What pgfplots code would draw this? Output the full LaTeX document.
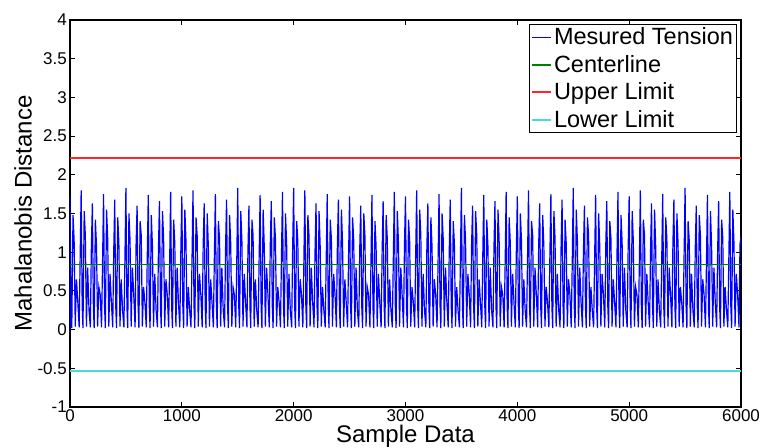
\documentclass[border=0pt]{standalone}
\usepackage{pgfplots}
\pgfplotsset{compat=1.18}
\usepackage{fontspec}
\setmainfont{Liberation Sans}
\definecolor{mgreen}{rgb}{0,0.5,0}
\definecolor{mred}{rgb}{1,0.15,0.15}
\definecolor{mcyan}{rgb}{0.3,0.85,0.85}
\begin{document}
\begin{tikzpicture}
\begin{axis}[
  scale only axis,
  width=671pt,height=387pt,
  xmin=0,xmax=6000,ymin=-1,ymax=4,
  xtick={0,1000,...,6000},
  ytick={-1,-0.5,0,0.5,1,1.5,2,2.5,3,3.5,4},
  tick align=inside,
  major tick length=5pt,
  tick style={black,line width=1pt},
  axis line style={black,line width=1.2pt},
  /pgf/number format/assume math mode=true,
  /pgf/number format/1000 sep={},
  scaled x ticks=false,
  tick label style={font=\fontsize{17}{19}\selectfont},
  xticklabel style={inner sep=1pt,yshift=-1pt},
  yticklabel style={inner sep=1pt,xshift=-2pt},
  xlabel={Sample Data},ylabel={Mahalanobis Distance},
  label style={font=\fontsize{24}{26}\selectfont},
  xlabel style={at={(rel axis cs:0.5,-0.093)},anchor=base},
  ylabel style={at={(rel axis cs:-0.07,0.5)},anchor=center,rotate=0},
  legend cell align=left,
  legend style={at={(rel axis cs:0.994,0.99)},anchor=north east,
    draw=black,line width=1pt,font=\fontsize{23.5}{26}\selectfont,
    inner sep=1.5pt,row sep=5pt},
  legend image code/.code={\draw[#1] (0pt,0pt) -- (19pt,0pt);},
]
\addplot[blue,line width=1.2pt] coordinates {
(0,0)(0,1.72)(9,0.3)(16,0.02)(27,1.48)(37,1.15)(47,0.04)(58,0.65)(70,0.35)(82,0.03)(91,0.95)
(100,1.80)(109,0.3)(116,0.02)(127,1.53)(137,1.22)(147,0.04)(158,0.80)(170,0.25)(182,0.03)(191,1.05)
(200,1.63)(209,0.3)(216,0.02)(227,1.42)(237,1.08)(247,0.04)(258,0.55)(270,0.45)(282,0.03)(291,0.85)
(300,1.75)(309,0.3)(316,0.02)(327,1.55)(337,1.18)(347,0.04)(358,0.72)(370,0.35)(382,0.03)(391,1.00)
(400,1.68)(409,0.3)(416,0.02)(427,1.45)(437,1.12)(447,0.04)(458,0.65)(470,0.25)(482,0.03)(491,0.90)
(500,1.83)(509,0.3)(516,0.02)(527,1.50)(537,1.15)(547,0.04)(558,0.80)(570,0.45)(582,0.03)(591,1.10)
(600,1.60)(609,0.3)(616,0.02)(627,1.40)(637,1.22)(647,0.04)(658,0.55)(670,0.35)(682,0.03)(691,0.95)
(700,1.74)(709,0.3)(716,0.02)(727,1.48)(737,1.08)(747,0.04)(758,0.72)(770,0.25)(782,0.03)(791,1.05)
(800,1.66)(809,0.3)(816,0.02)(827,1.53)(837,1.18)(847,0.04)(858,0.65)(870,0.45)(882,0.03)(891,0.85)
(900,1.78)(909,0.3)(916,0.02)(927,1.42)(937,1.12)(947,0.04)(958,0.80)(970,0.35)(982,0.03)(991,1.00)
(1000,1.72)(1009,0.3)(1016,0.02)(1027,1.55)(1037,1.15)(1047,0.04)(1058,0.55)(1070,0.25)(1082,0.03)(1091,0.90)
(1100,1.80)(1109,0.3)(1116,0.02)(1127,1.45)(1137,1.22)(1147,0.04)(1158,0.72)(1170,0.45)(1182,0.03)(1191,1.10)
(1200,1.63)(1209,0.3)(1216,0.02)(1227,1.50)(1237,1.08)(1247,0.04)(1258,0.65)(1270,0.35)(1282,0.03)(1291,0.95)
(1300,1.75)(1309,0.3)(1316,0.02)(1327,1.40)(1337,1.18)(1347,0.04)(1358,0.80)(1370,0.25)(1382,0.03)(1391,1.05)
(1400,1.68)(1409,0.3)(1416,0.02)(1427,1.48)(1437,1.12)(1447,0.04)(1458,0.55)(1470,0.45)(1482,0.03)(1491,0.85)
(1500,1.83)(1509,0.3)(1516,0.02)(1527,1.53)(1537,1.15)(1547,0.04)(1558,0.72)(1570,0.35)(1582,0.03)(1591,1.00)
(1600,1.60)(1609,0.3)(1616,0.02)(1627,1.42)(1637,1.22)(1647,0.04)(1658,0.65)(1670,0.25)(1682,0.03)(1691,0.90)
(1700,1.74)(1709,0.3)(1716,0.02)(1727,1.55)(1737,1.08)(1747,0.04)(1758,0.80)(1770,0.45)(1782,0.03)(1791,1.10)
(1800,1.66)(1809,0.3)(1816,0.02)(1827,1.45)(1837,1.18)(1847,0.04)(1858,0.55)(1870,0.35)(1882,0.03)(1891,0.95)
(1900,1.78)(1909,0.3)(1916,0.02)(1927,1.50)(1937,1.12)(1947,0.04)(1958,0.72)(1970,0.25)(1982,0.03)(1991,1.05)
(2000,1.83)(2009,0.3)(2016,0.02)(2027,1.40)(2037,1.15)(2047,0.04)(2058,0.65)(2070,0.45)(2082,0.03)(2091,0.85)
(2100,1.80)(2109,0.3)(2116,0.02)(2127,1.48)(2137,1.22)(2147,0.04)(2158,0.80)(2170,0.35)(2182,0.03)(2191,1.00)
(2200,1.63)(2209,0.3)(2216,0.02)(2227,1.53)(2237,1.08)(2247,0.04)(2258,0.55)(2270,0.25)(2282,0.03)(2291,0.90)
(2300,1.75)(2309,0.3)(2316,0.02)(2327,1.42)(2337,1.18)(2347,0.04)(2358,0.72)(2370,0.45)(2382,0.03)(2391,1.10)
(2400,1.68)(2409,0.3)(2416,0.02)(2427,1.55)(2437,1.12)(2447,0.04)(2458,0.65)(2470,0.35)(2482,0.03)(2491,0.95)
(2500,1.72)(2509,0.3)(2516,0.02)(2527,1.45)(2537,1.15)(2547,0.04)(2558,0.80)(2570,0.25)(2582,0.03)(2591,1.05)
(2600,1.60)(2609,0.3)(2616,0.02)(2627,1.50)(2637,1.22)(2647,0.04)(2658,0.55)(2670,0.45)(2682,0.03)(2691,0.85)
(2700,1.74)(2709,0.3)(2716,0.02)(2727,1.40)(2737,1.08)(2747,0.04)(2758,0.72)(2770,0.35)(2782,0.03)(2791,1.00)
(2800,1.66)(2809,0.3)(2816,0.02)(2827,1.48)(2837,1.18)(2847,0.04)(2858,0.65)(2870,0.25)(2882,0.03)(2891,0.90)
(2900,1.78)(2909,0.3)(2916,0.02)(2927,1.53)(2937,1.12)(2947,0.04)(2958,0.80)(2970,0.45)(2982,0.03)(2991,1.10)
(3000,1.72)(3009,0.3)(3016,0.02)(3027,1.42)(3037,1.15)(3047,0.04)(3058,0.55)(3070,0.35)(3082,0.03)(3091,0.95)
(3100,1.80)(3109,0.3)(3116,0.02)(3127,1.55)(3137,1.22)(3147,0.04)(3158,0.72)(3170,0.25)(3182,0.03)(3191,1.05)
(3200,1.63)(3209,0.3)(3216,0.02)(3227,1.45)(3237,1.08)(3247,0.04)(3258,0.65)(3270,0.45)(3282,0.03)(3291,0.85)
(3300,1.75)(3309,0.3)(3316,0.02)(3327,1.50)(3337,1.18)(3347,0.04)(3358,0.80)(3370,0.35)(3382,0.03)(3391,1.00)
(3400,1.68)(3409,0.3)(3416,0.02)(3427,1.40)(3437,1.12)(3447,0.04)(3458,0.55)(3470,0.25)(3482,0.03)(3491,0.90)
(3500,1.83)(3509,0.3)(3516,0.02)(3527,1.48)(3537,1.15)(3547,0.04)(3558,0.72)(3570,0.45)(3582,0.03)(3591,1.10)
(3600,1.60)(3609,0.3)(3616,0.02)(3627,1.53)(3637,1.22)(3647,0.04)(3658,0.65)(3670,0.35)(3682,0.03)(3691,0.95)
(3700,1.74)(3709,0.3)(3716,0.02)(3727,1.42)(3737,1.08)(3747,0.04)(3758,0.80)(3770,0.25)(3782,0.03)(3791,1.05)
(3800,1.66)(3809,0.3)(3816,0.02)(3827,1.55)(3837,1.18)(3847,0.04)(3858,0.55)(3870,0.45)(3882,0.03)(3891,0.85)
(3900,1.78)(3909,0.3)(3916,0.02)(3927,1.45)(3937,1.12)(3947,0.04)(3958,0.72)(3970,0.35)(3982,0.03)(3991,1.00)
(4000,1.72)(4009,0.3)(4016,0.02)(4027,1.50)(4037,1.15)(4047,0.04)(4058,0.65)(4070,0.25)(4082,0.03)(4091,0.90)
(4100,1.80)(4109,0.3)(4116,0.02)(4127,1.40)(4137,1.22)(4147,0.04)(4158,0.80)(4170,0.45)(4182,0.03)(4191,1.10)
(4200,1.63)(4209,0.3)(4216,0.02)(4227,1.48)(4237,1.08)(4247,0.04)(4258,0.55)(4270,0.35)(4282,0.03)(4291,0.95)
(4300,1.75)(4309,0.3)(4316,0.02)(4327,1.53)(4337,1.18)(4347,0.04)(4358,0.72)(4370,0.25)(4382,0.03)(4391,1.05)
(4400,1.68)(4409,0.3)(4416,0.02)(4427,1.42)(4437,1.12)(4447,0.04)(4458,0.65)(4470,0.45)(4482,0.03)(4491,0.85)
(4500,1.83)(4509,0.3)(4516,0.02)(4527,1.55)(4537,1.15)(4547,0.04)(4558,0.80)(4570,0.35)(4582,0.03)(4591,1.00)
(4600,1.60)(4609,0.3)(4616,0.02)(4627,1.45)(4637,1.22)(4647,0.04)(4658,0.55)(4670,0.25)(4682,0.03)(4691,0.90)
(4700,1.74)(4709,0.3)(4716,0.02)(4727,1.50)(4737,1.08)(4747,0.04)(4758,0.72)(4770,0.45)(4782,0.03)(4791,1.10)
(4800,1.66)(4809,0.3)(4816,0.02)(4827,1.40)(4837,1.18)(4847,0.04)(4858,0.65)(4870,0.35)(4882,0.03)(4891,0.95)
(4900,1.78)(4909,0.3)(4916,0.02)(4927,1.48)(4937,1.12)(4947,0.04)(4958,0.80)(4970,0.25)(4982,0.03)(4991,1.05)
(5000,1.72)(5009,0.3)(5016,0.02)(5027,1.53)(5037,1.15)(5047,0.04)(5058,0.55)(5070,0.45)(5082,0.03)(5091,0.85)
(5100,1.80)(5109,0.3)(5116,0.02)(5127,1.42)(5137,1.22)(5147,0.04)(5158,0.72)(5170,0.35)(5182,0.03)(5191,1.00)
(5200,1.63)(5209,0.3)(5216,0.02)(5227,1.55)(5237,1.08)(5247,0.04)(5258,0.65)(5270,0.25)(5282,0.03)(5291,0.90)
(5300,1.75)(5309,0.3)(5316,0.02)(5327,1.45)(5337,1.18)(5347,0.04)(5358,0.80)(5370,0.45)(5382,0.03)(5391,1.10)
(5400,1.68)(5409,0.3)(5416,0.02)(5427,1.50)(5437,1.12)(5447,0.04)(5458,0.55)(5470,0.35)(5482,0.03)(5491,0.95)
(5500,1.83)(5509,0.3)(5516,0.02)(5527,1.40)(5537,1.15)(5547,0.04)(5558,0.72)(5570,0.25)(5582,0.03)(5591,1.05)
(5600,1.60)(5609,0.3)(5616,0.02)(5627,1.48)(5637,1.22)(5647,0.04)(5658,0.65)(5670,0.45)(5682,0.03)(5691,0.85)
(5700,1.74)(5709,0.3)(5716,0.02)(5727,1.53)(5737,1.08)(5747,0.04)(5758,0.80)(5770,0.35)(5782,0.03)(5791,1.00)
(5800,1.66)(5809,0.3)(5816,0.02)(5827,1.42)(5837,1.18)(5847,0.04)(5858,0.55)(5870,0.25)(5882,0.03)(5891,0.90)
(5900,1.78)(5909,0.3)(5916,0.02)(5927,1.55)(5937,1.12)(5947,0.04)(5958,0.72)(5970,0.45)(5982,0.03)(5991,1.10)
(6000,1.20)
};
\addlegendentry{Mesured Tension}
\addplot[mgreen,line width=1.8pt] coordinates {(0,0.84) (6000,0.84)};
\addlegendentry{Centerline}
\addplot[mred,line width=2pt] coordinates {(0,2.22) (6000,2.22)};
\addlegendentry{Upper Limit}
\addplot[mcyan,line width=2pt] coordinates {(0,-0.54) (6000,-0.54)};
\addlegendentry{Lower Limit}
\end{axis}
\pgfresetboundingbox
\path (current axis.south west) ++(-70pt,-41pt) coordinate (bl);
\path (current axis.north east) ++(22pt,20pt) coordinate (tr);
\path[use as bounding box] (bl) rectangle (tr);
\end{tikzpicture}
\end{document}
